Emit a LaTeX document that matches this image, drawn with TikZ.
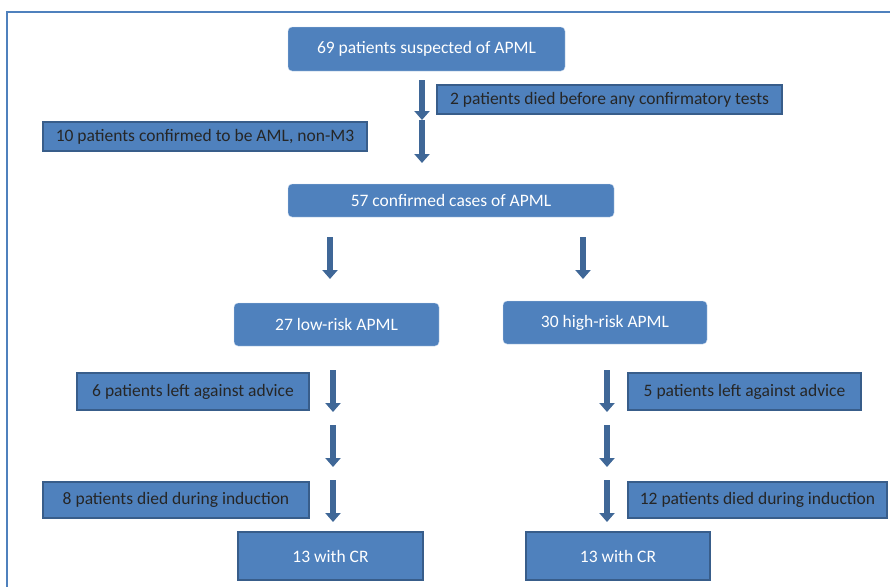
\documentclass[tikz,border=0pt]{standalone}
\usepackage{fontspec}
\setmainfont{Carlito}
\usetikzlibrary{arrows.meta}
\definecolor{boxblue}{HTML}{4F81BD}
\definecolor{edgeblue}{HTML}{385D8A}
\definecolor{paleblue}{HTML}{C6D6EC}

\begin{document}
\begin{tikzpicture}[x=1pt, y=-1pt,
    font=\fontsize{17.5}{20}\selectfont,
    stage/.style={fill=boxblue, draw=paleblue, rounded corners=4pt, text=white, inner sep=0pt},
    exclusion/.style={fill=boxblue, draw=edgeblue, line width=1.2pt, text=black!85, inner sep=0pt},
    outcome/.style={fill=boxblue, draw=edgeblue, line width=1.2pt, text=white, inner sep=0pt},
    flowarrow/.style={draw=boxblue!80!black, line width=6pt, -{Triangle[width=15pt,length=9pt]}}]
    \useasboundingbox (0,0) rectangle (890,587);
    % frame
    \draw[boxblue, line width=1.5pt] (890,12) -- (7,12) -- (7,587);

    % main stages
    \node[stage, minimum width=277pt, minimum height=44pt] (suspected) at (426.5,49) {69 patients suspected of APML};
    \node[exclusion, minimum width=345pt, minimum height=29pt] (diedearly) at (609.5,99.5) {2 patients died before any confirmatory tests};
    \node[exclusion, minimum width=324pt, minimum height=29pt] (nonmthree) at (205,136.5) {10 patients confirmed to be AML, non-M3};
    \node[stage, minimum width=326pt, minimum height=33pt] (confirmed) at (451,200.5) {57 confirmed cases of APML};
    \node[stage, minimum width=205pt, minimum height=43pt] (lowrisk) at (336.5,324.5) {27 low-risk APML};
    \node[stage, minimum width=204pt, minimum height=43pt] (highrisk) at (605,322.5) {30 high-risk APML};

    % low-risk branch
    \node[exclusion, minimum width=232pt, minimum height=37pt] (lowleft) at (193,391.5) {6 patients left against advice};
    \node[exclusion, minimum width=266pt, minimum height=36pt] (lowdied) at (176,500) {8 patients died during induction};
    \node[outcome, minimum width=185pt, minimum height=48pt] (lowcr) at (330.5,556) {13 with CR};

    % high-risk branch
    \node[exclusion, minimum width=233pt, minimum height=37pt] (highleft) at (744.5,391.5) {5 patients left against advice};
    \node[exclusion, minimum width=259pt, minimum height=36pt] (highdied) at (757.5,500) {12 patients died during induction};
    \node[outcome, minimum width=184pt, minimum height=48pt] (highcr) at (618,556) {13 with CR};

    % block arrows
    \foreach \n/\x/\ya/\yb in {sa/422/80/120, sb/422/120/163, ca/330/237/279, cb/583/237/279,
        la/333/370/412, lb/333/425/467, lc/333/480/522,
        ha/607/370/412, hb/607/425/467, hc/607/480/522} {
        \coordinate (\n top) at (\x,\ya);
        \coordinate (\n tip) at (\x,\yb);
        \draw[flowarrow] (\n top) -- (\n tip);
    }
\end{tikzpicture}
\end{document}
